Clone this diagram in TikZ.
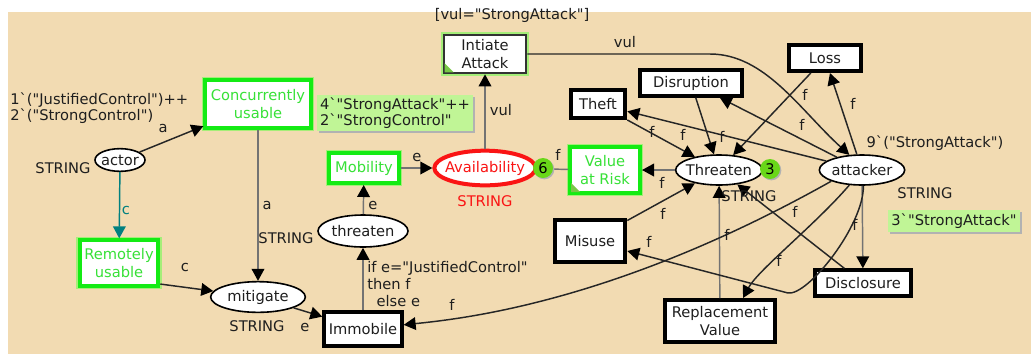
\documentclass[tikz,border=0pt]{standalone}
\usepackage{fontspec}
\setmainfont{DejaVu Sans}
\usetikzlibrary{shapes.geometric,arrows.meta}
\definecolor{fond}{RGB}{242,219,178}
\definecolor{encre}{RGB}{30,30,30}
\definecolor{vertb}{RGB}{20,235,20}
\definecolor{vertt}{RGB}{55,225,55}
\definecolor{halo}{RGB}{165,238,120}
\definecolor{vertpale}{RGB}{192,245,150}
\definecolor{jeton}{RGB}{105,215,25}
\definecolor{coin}{RGB}{120,200,70}
\definecolor{rouge}{RGB}{250,20,20}
\definecolor{sarcelle}{RGB}{0,128,128}
\newcommand{\plab}[1]{\makebox[0pt]{#1}}% texte hors taille de l'ellipse
\newcommand{\dq}{\textquotedbl}
\newcommand{\bq}{\textasciigrave}
\tikzset{
  every node/.style={font=\fontsize{11}{12.8}\selectfont, text=encre},
  taille/.style 2 args={minimum width=#1, minimum height=#2},
  trans/.style={rectangle, draw=black, line width=3pt, fill=white, inner sep=0pt, align=center},
  transv/.style={trans, draw=vertb, text=vertt, preaction={draw=halo, line width=5pt}},
  place/.style={ellipse, draw=black, line width=1.2pt, fill=white, inner sep=0pt},
  arc/.style={draw=black!85, line width=1.1pt, -{Triangle[length=9pt,width=9.5pt,color=black]}},
  arcg/.style={arc, draw=black!55},
  insc/.style={inner sep=0pt},
  annot/.style={fill=vertpale, inner xsep=2.5pt, inner ysep=2.5pt, align=left,
    font=\fontsize{11}{11.5}\selectfont,
    preaction={fill=black!30, transform canvas={shift={(1.5pt,-1.5pt)}}}},
  jetonrond/.style={circle, fill=jeton, minimum size=15pt, inner sep=0pt, text=black,
    preaction={fill=black!30, transform canvas={shift={(1pt,-1pt)}}}},
}
\begin{document}
\begin{tikzpicture}[x=0.75pt,y=-0.75pt]
\useasboundingbox (0,0) rectangle (1031,358);
\fill[white] (0,0) rectangle (1031,358);
\fill[fond] (8,12) rectangle (1031,354);
% places
\node[place, taille={37.5pt}{17pt}] (acteur) at (120,160) {\plab{actor}};
\node[place, taille={67.5pt}{24pt}] (menacer) at (363,231) {\plab{threaten}};
\node[place, taille={71pt}{23pt}] (attenuer) at (258,297) {\plab{mitigate}};
\node[place, taille={76pt}{26pt}, draw=rouge, line width=3pt, text=rouge] (dispo) at (485,168) {\plab{Availability}};
\node[place, taille={65pt}{22.5pt}] (menace) at (719,170) {\plab{Threaten}};
\node[place, taille={64pt}{22.5pt}] (attaquant) at (862,170) {\plab{attacker}};
% transitions
\node[trans, taille={62pt}{29pt}, line width=1.5pt, draw=black!80, preaction={draw=halo, line width=4.5pt}] (attaque) at (485,54) {Intiate\\Attack};
\node[transv, taille={79pt}{36pt}] (concurrent) at (258,104) {Concurrently\\usable};
\node[transv, taille={59pt}{34pt}] (distant) at (119,263) {Remotely\\usable};
\node[transv, taille={52.5pt}{22.5pt}] (mobilite) at (364,168) {Mobility};
\node[transv, taille={52.5pt}{34.5pt}] (valeur) at (605,170) {Value\\at Risk};
\node[trans, taille={54pt}{19.5pt}] (perte) at (825,58) {Loss};
\node[trans, taille={76.5pt}{19pt}] (perturbation) at (691,83) {Disruption};
\node[trans, taille={41pt}{21pt}] (vol) at (598,104) {Theft};
\node[trans, taille={53pt}{31.5pt}] (abus) at (590,241) {Misuse};
\node[trans, taille={83pt}{31.5pt}] (remplacement) at (720,321) {Replacement\\Value};
\node[trans, taille={72pt}{19pt}] (divulgation) at (863,283) {Disclosure};
\node[trans, taille={58pt}{25.5pt}] (immobile) at (363,329) {Immobile};
\fill[coin] ([shift={(2,-2)}]attaque.south west) -- ++(9,0) -- ++(-9,-9) -- cycle;
\fill[coin] ([shift={(3,-3)}]valeur.south west) -- ++(9,0) -- ++(-9,-9) -- cycle;
% arcs
\draw[arc] (acteur) -- (concurrent);
\draw[arc, draw=sarcelle, -{Triangle[length=9pt,width=9.5pt,color=sarcelle]}] (acteur) -- (distant);
\draw[arcg] (concurrent) -- (attenuer);
\draw[arc] (distant.-27) -- (attenuer);
\draw[arc] (attenuer) -- (immobile);
\draw[arcg] (immobile) -- (menacer);
\draw[arcg] (menacer) -- (mobilite);
\draw[arcg] (mobilite) -- (dispo);
\draw[arcg] (dispo) -- (attaque);
\draw[arcg] (valeur) -- (dispo);
\draw[arcg] (menace) -- (valeur);
\draw[arc] (attaque) -- (710,54) .. controls (765,54) and (800,110) .. (attaquant.130);
\draw[arc] (attaquant) -- (perte);
\draw[arc] (perte) -- (menace);
\draw[arc] (attaquant) -- (perturbation);
\draw[arc] (perturbation) -- (menace);
\draw[arc] (attaquant) -- (vol);
\draw[arc] (vol) -- (menace);
\draw[arc] (abus) -- (menace);
\draw[arcg] (remplacement) -- (menace);
\draw[arc] (divulgation) -- (menace);
\draw[arcg] (attaquant) -- (divulgation);
\draw[arc] (attaquant.-130) .. controls (815,225) and (758,270) .. (remplacement.45);
\draw[arc] (attaquant.-85) .. controls (864,225) and (808,296) .. (788,293) -- (abus.-15);
\draw[arc] (attaquant.200) .. controls (620,300) and (470,318) .. (immobile);
% jetons
\node[jetonrond] (j6) at (543,168) {6};
\node[jetonrond] (j3) at (770,169) {3};
% inscriptions
\foreach \pos [count=\i] in {(652,132),(683,135),(722,137),(805,95),(853,104),(802,125),(558,155),(662,183),(663,214),(649,242),(727,235),(795,212),(779,261),(855,225),(452,305)}
  \node[insc] (f\i) at \pos {f};
\node[insc] (garde) at (512,15) {[vul=\dq StrongAttack\dq]};
\node[insc] (vul1) at (625,42) {vul};
\node[insc] (vul2) at (501,110) {vul};
\node[insc] (e1) at (417,157) {e};
\node[insc] (e2) at (373,205) {e};
\node[insc] (e3) at (305,327) {e};
\node[insc] (a1) at (163,128) {a};
\node[insc] (a2) at (267,205) {a};
\node[insc, text=sarcelle] (c1) at (126,210) {c};
\node[insc] (c2) at (185,267) {c};
\node[insc] (s1) at (63,168) {STRING};
\node[insc] (s2) at (286,238) {STRING};
\node[insc] (s3) at (257,326) {STRING};
\node[insc, text=rouge] (s4) at (485,201) {STRING};
\node[insc] (s5) at (749,196) {STRING};
\node[insc] (s6) at (925,193) {STRING};
\node[insc, anchor=west, align=left, font=\fontsize{11}{11.5}\selectfont] (init1) at (10,108)
  {1\bq(\dq JustifiedControl\dq)++\\2\bq(\dq StrongControl\dq)};
\node[insc] (init2) at (935,143) {9\bq(\dq StrongAttack\dq)};
\node[insc, anchor=west, align=left] (cond) at (367,284)
  {if e=\dq JustifiedControl\dq\\then f\\\hspace*{7pt}else e};
\node[annot] (marq1) at (395,113) {4\bq\dq StrongAttack\dq++\\2\bq\dq StrongControl\dq};
\node[annot] (marq2) at (954,221) {3\bq\dq StrongAttack\dq};
\end{tikzpicture}
\end{document}
